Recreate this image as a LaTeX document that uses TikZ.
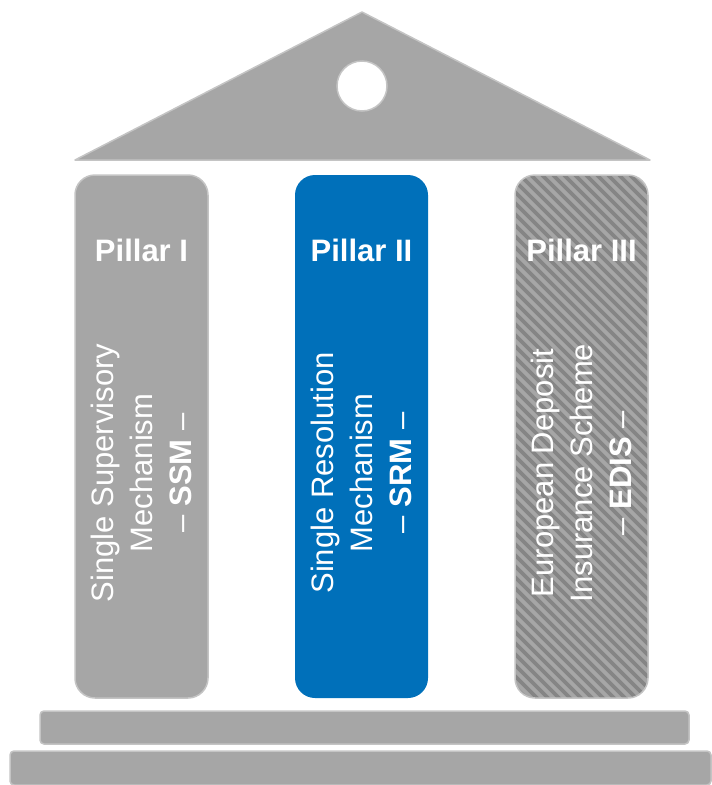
\documentclass[tikz,border=0pt]{standalone}
\usepackage{fontspec}
\setmainfont{Liberation Sans}
\definecolor{pgray}{HTML}{A6A6A6}
\definecolor{pedge}{HTML}{C4C4C4}
\definecolor{pblue}{HTML}{0070BA}
\definecolor{pstripe}{HTML}{858585}
\tikzset{
  part/.style={fill=pgray, draw=pedge, line width=1.5pt},
  pillarbox/.style={part, rounded corners=20pt},
  stepbox/.style={part, rounded corners=4pt},
  titletext/.style={text=white, font=\fontsize{31}{38}\selectfont\bfseries, inner sep=0pt},
  bodytext/.style={text=white, rotate=90, align=center, font=\fontsize{31}{39}\selectfont, inner sep=0pt},
  stripe/.style={draw=pstripe, line width=3.6pt}
}
\begin{document}
\begin{tikzpicture}[x=1pt,y=-1pt]
\useasboundingbox (0,0) rectangle (712,785);
% roof
\draw[part, line join=round] (75,160) -- (362,12) -- (650,160) -- cycle;
\draw[fill=white, draw=pedge, line width=1.5pt] (362,86) circle (25);
% pillar I
\draw[pillarbox] (75,175) rectangle (208,698);
% pillar II
\fill[pblue, rounded corners=20pt] (295,175) rectangle (428,698);
% pillar III (hatched)
\begin{scope}
  \clip[rounded corners=20pt] (515,175) rectangle (648,698);
  \fill[pgray] (515,175) rectangle (648,698);
  \foreach \k in {0,...,64} {
    \draw[stripe] (-30+\k*11,175) -- ++(560,560);
  }
\end{scope}
\draw[draw=pedge, line width=1.5pt, rounded corners=20pt] (515,175) rectangle (648,698);
% steps
\draw[stepbox] (40,711) rectangle (689,744);
\draw[stepbox] (10,751) rectangle (711,785);
% titles
\node[titletext] (t1) at (141.5,250) {Pillar I};
\node[titletext] (t2) at (361.5,250) {Pillar II};
\node[titletext] (t3) at (581.5,250) {Pillar III};
% body texts
\node[bodytext] (b1) at (141.5,473) {Single Supervisory\\Mechanism\\– \textbf{SSM} –};
\node[bodytext] (b2) at (361.5,473) {Single Resolution\\Mechanism\\– \textbf{SRM} –};
\node[bodytext] (b3) at (581.5,473) {European Deposit\\Insurance Scheme\\– \textbf{EDIS} –};
\end{tikzpicture}
\end{document}
